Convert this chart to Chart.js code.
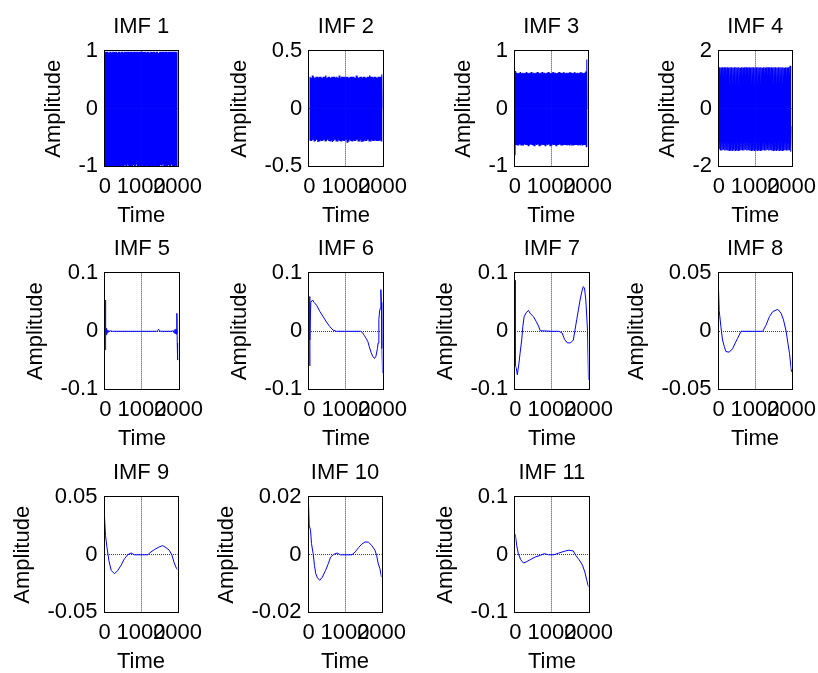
<!DOCTYPE html>
<html>
<head>
<meta charset="utf-8">
<script src="https://cdn.jsdelivr.net/npm/chart.js@4"></script>
<style>
html,body{margin:0;padding:0;background:#fff;}
#wrap{position:relative;width:818px;height:673px;overflow:hidden;background:#fff;}
#wrap canvas{position:absolute;}
</style>
</head>
<body>
<div id="wrap"></div>
<script>
// ---------------- data ----------------
const titles = ['IMF 1','IMF 2','IMF 3','IMF 4','IMF 5','IMF 6','IMF 7','IMF 8','IMF 9','IMF 10','IMF 11'];
const xTickVals = [0, 1000, 2000];
const xTickLabels = ['0', '1000', '2000'];

const yTickVals = [
  [-1, 0, 1], [-0.5, 0, 0.5], [-1, 0, 1], [-2, 0, 2],
  [-0.1, 0, 0.1], [-0.1, 0, 0.1], [-0.1, 0, 0.1], [-0.05, 0, 0.05],
  [-0.05, 0, 0.05], [-0.02, 0, 0.02], [-0.1, 0, 0.1]
];
const yTickLabels = [
  ['-1','0','1'], ['-0.5','0','0.5'], ['-1','0','1'], ['-2','0','2'],
  ['-0.1','0','0.1'], ['-0.1','0','0.1'], ['-0.1','0','0.1'], ['-0.05','0','0.05'],
  ['-0.05','0','0.05'], ['-0.02','0','0.02'], ['-0.1','0','0.1']
];

// high-frequency IMFs (evenly sampled over 0..2000)
const imf1 = [
  1,-1,0.99,-1,1,-0.98,1,-1,0.97,-1, 1,-0.99,1,-1,0.98,-1,1,-0.97,1,-1, 0.99,-1,1,-1,1,-0.98,0.97,-1,1,-0.99,
  1,-1,0.98,-1,1,-0.99,1,-1,0.97,-1, 1,-0.98,1,-1,0.99,-1,1,-0.97,1,-1, 0.98,-1,1,-1,1,-0.99,0.97,-1,1,-0.98,
  1,-1,0.99,-1,1,-0.97,1,-1,0.98,-1, 1,-0.99,1,-1,0.97,-1,1,-0.98,1,-1, 0.99,-1,1,-1,1,-0.97,0.98,-1,1,-0.99,
  1,-1,0.97,-1,1,-0.98,1,-1,0.99,-1, 1,-0.97,1,-1,0.98,-1,1,-0.99,1,-1, 0.97,-1,1,-1,1,-0.98,0.99,-1,1,-0.97,
  1,-1,0.98,-1,1,-0.99,1,-1,0.97,-1, 1,-0.98,1,-1,0.99,-1,1,-0.97,1,-1, 0.98,-1,1,-1,1,-0.99,0.97,-1,1,-1
];
const imf2 = [
  -0.27,0.28,-0.28,0.27,-0.28,0.29,-0.27,0.28,-0.28,0.27, -0.28,0.28,-0.27,0.28,-0.29,0.27,-0.28,0.28,-0.27,0.28,
  -0.28,0.27,-0.28,0.28,-0.27,0.28,-0.28,0.29,-0.28,0.27, -0.27,0.28,-0.28,0.28,-0.28,0.27,-0.27,0.28,-0.29,0.28,
  -0.28,0.28,-0.27,0.27,-0.28,0.28,-0.28,0.27,-0.27,0.29, -0.28,0.27,-0.28,0.28,-0.27,0.28,-0.28,0.28,-0.28,0.27,
  -0.27,0.28,-0.29,0.28,-0.28,0.27,-0.27,0.28,-0.28,0.28, -0.28,0.28,-0.27,0.28,-0.28,0.27,-0.28,0.29,-0.27,0.28,
  -0.28,0.27,-0.28,0.28,-0.27,0.28,-0.29,0.27,-0.28,0.28, -0.27,0.28,-0.28,0.27,-0.28,0.28,-0.27,0.28,-0.28,0.29,
  -0.28,0.28,-0.27,0.28,-0.28,0.27,-0.28,0.28,-0.27,0.28, -0.28,0.27,-0.28,0.28,-0.28,0.28,-0.27,0.28,-0.28,0.3,
  0.0
];
const imf3 = [
  -0.81,0.66,-0.62,0.63,-0.63,0.62,-0.64,0.63,-0.62,0.64, -0.63,0.62,-0.63,0.63,-0.64,0.62,-0.62,0.63,-0.63,0.64,
  -0.62,0.63,-0.64,0.62,-0.63,0.63,-0.62,0.64,-0.63,0.62, -0.63,0.63,-0.64,0.62,-0.62,0.63,-0.63,0.64,-0.62,0.63,
  -0.64,0.62,-0.63,0.63,-0.62,0.64,-0.63,0.62,-0.63,0.63, -0.64,0.62,-0.62,0.63,-0.63,0.64,-0.62,0.63,-0.64,0.62,
  -0.63,0.63,-0.62,0.64,-0.63,0.62,-0.63,0.63,-0.64,0.62, -0.62,0.63,-0.63,0.64,-0.62,0.63,-0.64,0.62,-0.63,0.63,
  -0.62,0.64,-0.63,0.62,-0.63,0.63,-0.64,0.62,-0.62,0.63, -0.63,0.64,-0.62,0.63,-0.64,0.62,-0.63,0.63,-0.62,0.64,
  -0.63,0.62,-0.63,0.63,-0.64,0.62,-0.62,0.63,-0.63,0.64, -0.62,0.63,-0.64,0.62,-0.63,0.63,-0.62,0.65,-0.66,0.86,
  0.02
];
const imf4 = [
  -1.4,1.45,-1.45,1.44,-1.45,1.45,-1.43,1.45,-1.45,1.44, -1.44,1.45,-1.45,1.43,-1.45,1.45,-1.44,1.45,-1.45,1.44,
  -1.43,1.45,-1.45,1.45,-1.44,1.44,-1.45,1.45,-1.45,1.43, -1.44,1.45,-1.45,1.44,-1.45,1.45,-1.43,1.45,-1.45,1.44,
  -1.44,1.45,-1.45,1.43,-1.45,1.45,-1.44,1.45,-1.45,1.44, -1.43,1.45,-1.45,1.45,-1.44,1.44,-1.45,1.45,-1.45,1.43,
  -1.44,1.45,-1.45,1.44,-1.45,1.45,-1.43,1.45,-1.45,1.44, -1.44,1.45,-1.45,1.43,-1.45,1.45,-1.44,1.45,-1.45,1.44,
  -1.43,1.45,-1.45,1.45,-1.44,1.44,-1.45,1.45,-1.45,1.43, -1.44,1.45,-1.45,1.44,-1.45,1.45,-1.44,1.5,-1.5,-0.6
];

// low-frequency IMFs (time, value)
const t5 = [0,3,12,22,35,50,70,95,130,200,600,1000,1400,1430,1455,1480,1520,1800,1860,1880,1900,1915,1930,1945,1955,1965,1975,2000];
const v5 = [0.054,-0.032,0.008,-0.006,0.005,-0.003,0.002,-0.001,0.001,0,0,0,0,0.001,0.0035,0.001,0,0,0.001,-0.003,0.003,-0.004,0.004,-0.005,0.031,-0.02,-0.049,-0.049];
const t6 = [0,8,18,40,90,130,200,290,380,470,560,650,740,1000,1400,1450,1500,1550,1600,1640,1690,1730,1780,1820,1860,1880,1900,1920,1940,1955,1970,1985,2000];
const v6 = [0.06,-0.06,-0.015,0.05,0.054,0.05,0.045,0.034,0.025,0.016,0.008,0.002,0,0,0,-0.002,-0.007,-0.012,-0.018,-0.027,-0.037,-0.043,-0.047,-0.043,-0.03,-0.02,0.02,0.035,0.04,0.072,0.05,-0.03,-0.072];
const t7 = [0,5,30,55,100,130,175,205,240,295,360,405,500,570,635,680,1000,1190,1280,1345,1420,1510,1585,1630,1677,1723,1770,1815,1853,1890,1926,1972,2000];
const v7 = [0.088,-0.06,-0.065,-0.075,-0.055,-0.038,-0.015,0.008,0.025,0.032,0.036,0.031,0.025,0.017,0.009,0.001,0,0,-0.003,-0.014,-0.02,-0.02,-0.015,0.002,0.02,0.037,0.054,0.068,0.077,0.075,0.054,0.002,-0.084];
const t8 = [0,18,64,110,156,202,294,385,459,523,615,1000,1211,1303,1394,1486,1624,1716,1780,1853,1899,1945,1991,2000];
const v8 = [0.036,0.018,0.004,-0.0075,-0.013,-0.0175,-0.018,-0.015,-0.010,-0.006,0,0,0,0.0055,0.0126,0.017,0.019,0.0155,0.0098,0,-0.01,-0.019,-0.033,-0.035];
const t9 = [0,27,64,118,182,273,364,455,545,636,727,818,1000,1182,1273,1364,1500,1591,1682,1773,1845,1909,1973,2000];
const v9 = [0.0325,0.017,0.0069,-0.0048,-0.0136,-0.0165,-0.0136,-0.009,-0.0034,0,0.0016,0,0,0,0.0025,0.0045,0.0069,0.008,0.0063,0.004,0,-0.007,-0.012,-0.013];
const t10 = [0,18,54,81,126,162,198,243,306,378,468,541,604,694,784,874,1000,1189,1279,1369,1459,1550,1640,1730,1820,1865,1910,1955,2000];
const v10 = [0.0179,0.0103,0.0086,0.0039,0.0004,-0.0037,-0.0066,-0.008,-0.0089,-0.0078,-0.0054,-0.0031,-0.0008,0.0002,0.0006,0,0,0,0.001,0.0025,0.0037,0.0045,0.0044,0.0033,0.0016,-0.0002,-0.0031,-0.0048,-0.0078];
const t11 = [0,37,83,147,221,295,406,544,682,793,912,1051,1189,1327,1465,1585,1650,1742,1834,1899,1954,2000];
const v11 = [0.036,0.0166,0.002,-0.0085,-0.0143,-0.0125,-0.0085,-0.0038,-0.0009,0.002,0,0,0.003,0.006,0.008,0.0067,-0.0009,-0.0085,-0.018,-0.03,-0.045,-0.056];

// ---------------- layout / style ----------------
const FONT = "'Liberation Sans', Arial, Helvetica, sans-serif";
const FS = 22;
const LH = FS * 1.2;
const colLeft = [105, 309, 515, 719];
const rowTop = [51, 273, 497];
const rowH = [115, 116, 115];
const plotW = 73;
const LINE = '#0000ff';
const GRID = 'rgba(40,40,40,0.9)';
const Y_TICK_PAD = 7, Y_TITLE_PB = 11;
const X_TICK_PAD = 8, X_TITLE_PT = 2;

function sampleTimes(n) { // even sampling grid over the time axis
  const out = [];
  for (let i = 0; i < n; i++) out.push(i * 2000 / (n - 1));
  return out;
}

const series = [
  [sampleTimes(imf1.length), imf1],
  [sampleTimes(imf2.length), imf2],
  [sampleTimes(imf3.length), imf3],
  [sampleTimes(imf4.length), imf4],
  [t5, v5], [t6, v6], [t7, v7], [t8, v8], [t9, v9], [t10, v10], [t11, v11]
];

const boxPlugin = {
  id: 'box',
  afterDraw(chart) {
    const a = chart.chartArea, ctx = chart.ctx;
    ctx.save();
    ctx.strokeStyle = '#000';
    ctx.lineWidth = 1;
    ctx.setLineDash([]);
    ctx.strokeRect(Math.round(a.left) - 0.5, Math.round(a.top) - 0.5,
                   Math.round(a.right) - Math.round(a.left) + 1, Math.round(a.bottom) - Math.round(a.top) + 1);
    ctx.restore();
  }
};

function config(k) {
  const [tt, vv] = series[k];
  const yv = yTickVals[k], yl = yTickLabels[k];
  const font = {family: FONT, size: FS, weight: 'normal'};
  const midGrid = (val) => (c) => (c.tick && Math.abs(c.tick.value - val) < 1e-9) ? GRID : 'rgba(0,0,0,0)';
  const dense = k < 4;
  return {
    type: 'line',
    data: {datasets: [{
      data: tt.map((x, i) => ({x: x, y: vv[i]})),
      borderColor: LINE, borderWidth: dense ? 1.3 : 1, pointRadius: 0, tension: 0, fill: false
    }]},
    options: {
      responsive: false, maintainAspectRatio: false, animation: false, events: [],
      layout: {padding: {left: 0, right: 30, top: 0, bottom: 0}},
      plugins: {
        legend: {display: false}, tooltip: {enabled: false},
        title: {display: true, fullSize: false, text: titles[k], color: '#000', font: font, padding: {top: 4, bottom: 11}}
      },
      scales: {
        x: {
          type: 'linear', min: xTickVals[0], max: xTickVals[2],
          afterBuildTicks: s => { s.ticks = xTickVals.map(v => ({value: v})); },
          afterFit: s => { s.height = X_TICK_PAD + LH + X_TITLE_PT + LH; },
          ticks: {autoSkip: false, maxRotation: 0, minRotation: 0, padding: X_TICK_PAD, color: '#000', font: font,
                  callback: (v, i) => xTickLabels[i]},
          grid: {z: 1, drawTicks: false, lineWidth: 1, color: midGrid(1000)},
          border: {display: false, dash: [1, 1]},
          title: {display: true, text: 'Time', color: '#000', font: font, padding: {top: X_TITLE_PT, bottom: 0}}
        },
        y: {
          type: 'linear', min: yv[0], max: yv[2],
          afterBuildTicks: s => { s.ticks = yv.map(v => ({value: v})); },
          afterFit: s => {
            const ctx = s.ctx;
            ctx.save();
            ctx.font = FS + 'px ' + FONT;
            let w = 0;
            yl.forEach(t => { w = Math.max(w, ctx.measureText(t).width); });
            ctx.restore();
            s.width = LH + Y_TITLE_PB + w + Y_TICK_PAD;
          },
          ticks: {autoSkip: false, padding: Y_TICK_PAD, color: '#000', font: font,
                  callback: (v, i) => yl[i]},
          grid: {z: 1, drawTicks: false, lineWidth: 1, color: midGrid(0)},
          border: {display: false, dash: [1, 1]},
          title: {display: true, text: 'Amplitude', color: '#000', font: font, padding: {top: 0, bottom: Y_TITLE_PB}}
        }
      }
    },
    plugins: [boxPlugin]
  };
}

const wrap = document.getElementById('wrap');
for (let k = 0; k < 11; k++) {
  const r = Math.floor(k / 4), c = k % 4;
  const targetL = colLeft[c], targetT = rowTop[r], targetH = rowH[r];
  // pass 1: measure
  let W = 300, H = 300;
  let cv = document.createElement('canvas');
  cv.width = W; cv.height = H;
  cv.style.width = W + 'px'; cv.style.height = H + 'px';
  wrap.appendChild(cv);
  let ch = new Chart(cv, config(k));
  const a = ch.chartArea;
  const W2 = Math.round(W + (plotW - (a.right - a.left)));
  const H2 = Math.round(H + (targetH - (a.bottom - a.top)));
  ch.destroy();
  wrap.removeChild(cv);
  // pass 2: final
  cv = document.createElement('canvas');
  cv.width = W2; cv.height = H2;
  cv.style.width = W2 + 'px'; cv.style.height = H2 + 'px';
  wrap.appendChild(cv);
  ch = new Chart(cv, config(k));
  const b = ch.chartArea;
  cv.style.left = Math.round(targetL - b.left) + 'px';
  cv.style.top = Math.round(targetT - b.top) + 'px';
}
</script>
</body>
</html>
